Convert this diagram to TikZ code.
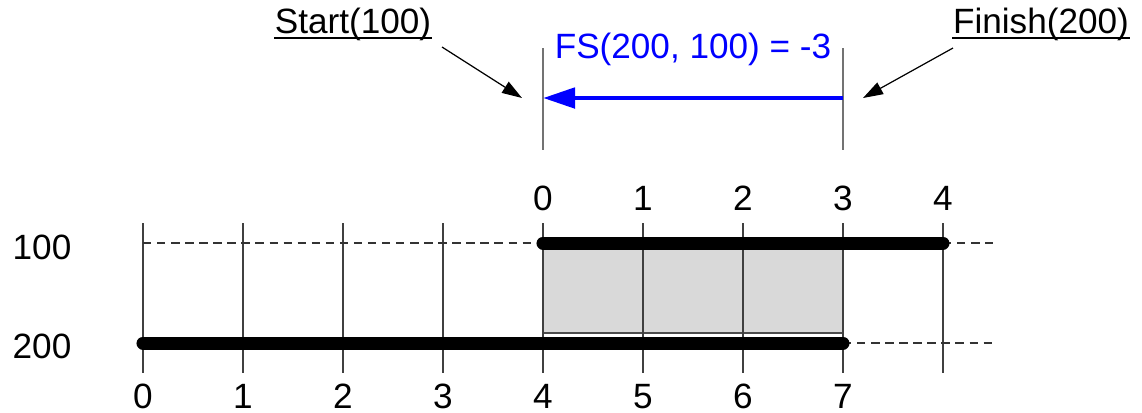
\documentclass[tikz,border=0pt]{standalone}
\usepackage{fontspec}
\setmainfont{Liberation Sans}
\usetikzlibrary{arrows.meta}
\tikzset{>={Stealth[scale=1]}}
\tikzset{
    lbl/.style={font=\fontsize{10}{12}\selectfont, inner sep=0pt},
    bar/.style={line width=3.7pt, line cap=round},
    gridline/.style={black!75, line width=0.35pt},
    guide/.style={black!80, line width=0.3pt, dash pattern=on 2.4pt off 1.6pt},
    pointer/.style={-{Triangle[length=2mm, width=1.3mm]}, line width=0.35pt},
    lagarrow/.style={blue, line width=1.4pt, -{Triangle[length=3.2mm, width=2mm]}}
}

\begin{document}
\begin{tikzpicture}[x=1cm, y=-1cm]
            \useasboundingbox (0,0) rectangle (11.42,4.12);

            %shaded overlap
            \filldraw[fill=black!15, draw=black!70, line width=0.3pt] (5.43,2.49) rectangle (8.43,3.33);

            %grid lines and bottom scale
            \foreach \i in {0,...,7} {
                \coordinate (gt\i) at (1.43+\i, 2.23);
                \coordinate (gb\i) at (1.43+\i, 3.73);
                \draw[gridline] (gt\i) -- (gb\i);
                \node[lbl] (bot\i) at (1.43+\i, 3.965) {\i};
            }
            \coordinate (gt8) at (9.43, 2.23);
            \coordinate (gb8) at (9.43, 3.73);
            \draw[gridline] (gt8) -- (gb8);

            %top scale
            \foreach \i in {0,...,4} {
                \node[lbl] (top\i) at (5.43+\i, 1.98) {\i};
            }

            %row labels
            \node[lbl] (r100) at (0.42, 2.47) {100};
            \node[lbl] (r200) at (0.42, 3.46) {200};

            %dashed guides
            \coordinate (d1a) at (1.43, 2.43);
            \coordinate (d1b) at (5.43, 2.43);
            \coordinate (d2a) at (9.43, 2.43);
            \coordinate (d2b) at (9.93, 2.43);
            \coordinate (d3a) at (8.43, 3.43);
            \coordinate (d3b) at (9.93, 3.43);
            \draw[guide] (d1a) -- (d1b);
            \draw[guide] (d2a) -- (d2b);
            \draw[guide] (d3a) -- (d3b);

            %activity bars
            \coordinate (s100) at (5.43, 2.43);
            \coordinate (f100) at (9.43, 2.43);
            \coordinate (s200) at (1.43, 3.43);
            \coordinate (f200) at (8.43, 3.43);
            \draw[bar] (s100) -- (f100);
            \draw[bar] (s200) -- (f200);

            %markers up top
            \coordinate (ms1) at (5.43, 0.48);
            \coordinate (ms2) at (5.43, 1.50);
            \coordinate (mf1) at (8.43, 0.48);
            \coordinate (mf2) at (8.43, 1.50);
            \draw[black!55, line width=0.4pt] (ms1) -- (ms2);
            \draw[black!55, line width=0.4pt] (mf1) -- (mf2);

            %FS arrow
            \coordinate (la) at (8.43, 0.98);
            \coordinate (lb) at (5.43, 0.98);
            \draw[lagarrow] (la) -- (lb);
            \node[lbl, blue, anchor=base] (fs) at (6.93, 0.58) {FS(200, 100) = -3};

            %Start label
            \node[lbl, anchor=base] (start) at (3.53, 0.33) {Start(100)};
            \draw[line width=0.6pt] ([yshift=-0.5mm]start.base west) -- ([yshift=-0.5mm]start.base east);
            \coordinate (sp1) at (4.42, 0.47);
            \coordinate (sp2) at (5.22, 0.98);
            \draw[pointer] (sp1) -- (sp2);

            %Finish label
            \node[lbl, anchor=base] (finish) at (10.41, 0.33) {Finish(200)};
            \draw[line width=0.6pt] ([yshift=-0.5mm]finish.base west) -- ([yshift=-0.5mm]finish.base east);
            \coordinate (fp1) at (9.53, 0.48);
            \coordinate (fp2) at (8.63, 0.98);
            \draw[pointer] (fp1) -- (fp2);

\end{tikzpicture}
\end{document}
